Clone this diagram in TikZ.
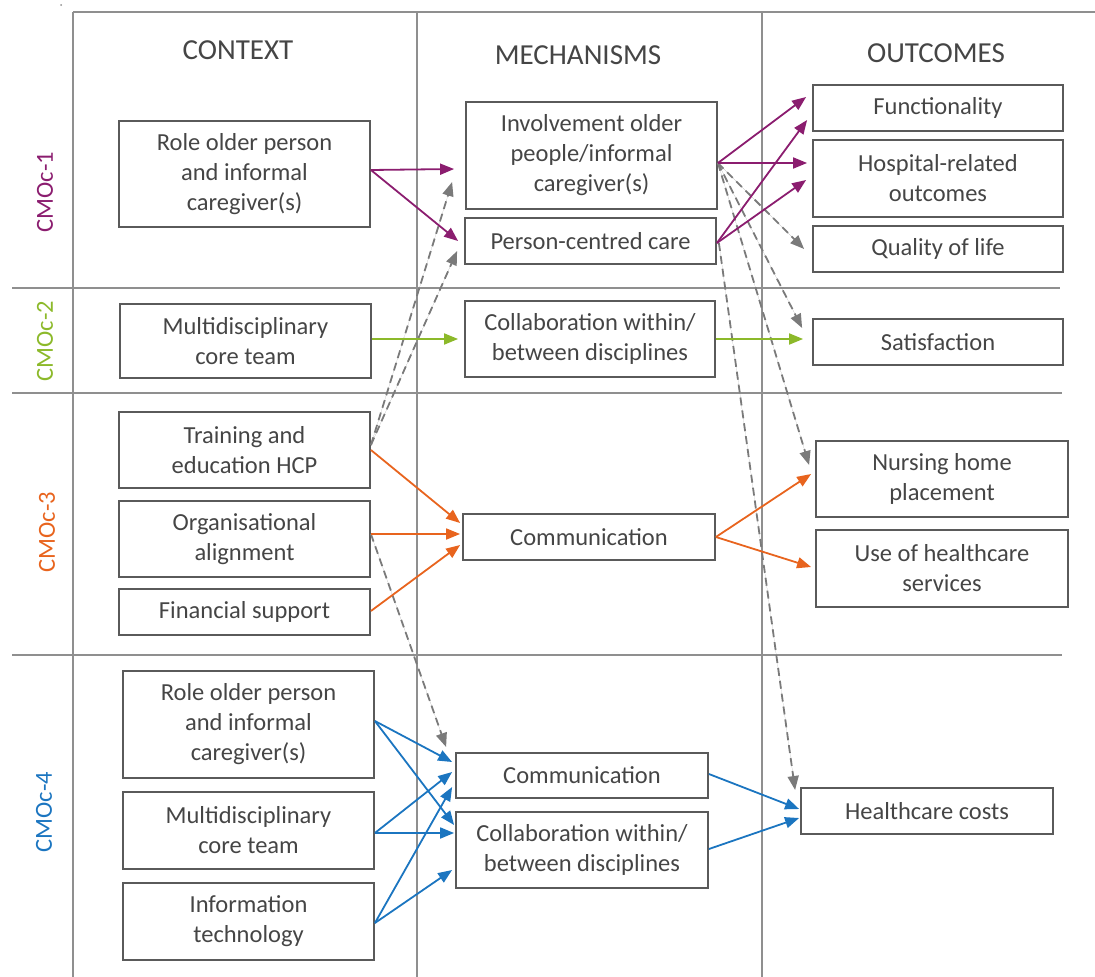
\documentclass[tikz,border=0pt]{standalone}
\usepackage{fontspec}
\setmainfont{Carlito}
\usetikzlibrary{arrows.meta,calc}
\definecolor{cpur}{HTML}{8B1D6F}
\definecolor{cgrn}{HTML}{8CB92A}
\definecolor{corg}{HTML}{E8641E}
\definecolor{cblu}{HTML}{1B75C0}
\definecolor{dgray}{HTML}{7A7A7A}
\definecolor{boxgray}{HTML}{5A5A5A}
\definecolor{txtgray}{HTML}{454545}
\definecolor{framegray}{HTML}{8F8F8F}
\begin{document}
\begin{tikzpicture}[x=1pt,y=-1pt,
  box/.style={draw=boxgray, line width=1.8pt, inner sep=0pt, align=center,
    font=\fontsize{24.5}{30}\selectfont, text=txtgray},
  frame/.style={draw=framegray, line width=1.3pt},
  arr/.style={line width=1.8pt, -{Triangle[length=14pt,width=11pt]}},
  dsh/.style={arr, draw=dgray, fill=dgray, dash pattern=on 8pt off 5pt},
  hdr/.style={font=\fontsize{29}{34}\selectfont, text=txtgray},
  lab/.style={rotate=90, font=\fontsize{24.5}{28}\selectfont}]
\useasboundingbox (0,0) rectangle (1095,977);
% frame
\fill[framegray] (61,5) circle (1pt);
\draw[frame] (73,12) -- (1095,12);
\draw[frame] (73,12) -- (73,977);
\draw[frame] (417,12) -- (417,977);
\draw[frame] (762,12) -- (762,977);
\draw[frame] (12,288) -- (1060,288);
\draw[frame] (12,393) -- (1062,393);
\draw[frame] (12,655) -- (1062,655);
% headers
\node[hdr] (hc) at (238,50) {CONTEXT};
\node[hdr] (hm) at (578,55) {MECHANISMS};
\node[hdr] (ho) at (936,53) {OUTCOMES};
% row labels
\node[lab, text=cpur] (l1) at (45,192) {CMOc-1};
\node[lab, text=cgrn] (l2) at (45,341) {CMOc-2};
\node[lab, text=corg] (l3) at (47,532) {CMOc-3};
\node[lab, text=cblu] (l4) at (44,812) {CMOc-4};
% context
\node[box, minimum width=251pt, minimum height=106pt] (c1) at (244.5,174) {Role older person\\and informal\\caregiver(s)};
\node[box, minimum width=251pt, minimum height=74pt] (c2) at (245.5,341) {Multidisciplinary\\core team};
\node[box, minimum width=251pt, minimum height=76pt] (c3a) at (244.5,450) {Training and\\education HCP};
\node[box, minimum width=251pt, minimum height=76pt] (c3b) at (244.5,539) {Organisational\\alignment};
\node[box, minimum width=251pt, minimum height=46pt] (c3c) at (244.5,612) {Financial support};
\node[box, minimum width=251pt, minimum height=107pt] (c4a) at (248.5,724.5) {Role older person\\and informal\\caregiver(s)};
\node[box, minimum width=251pt, minimum height=77pt] (c4b) at (248.5,830.5) {Multidisciplinary\\core team};
\node[box, minimum width=251pt, minimum height=77pt] (c4c) at (248.5,921.5) {Information\\technology};
% mechanisms
\node[box, minimum width=251pt, minimum height=107pt] (m1) at (591.5,155.5) {Involvement older\\people/informal\\caregiver(s)};
\node[box, minimum width=251pt, minimum height=46pt] (m2) at (590.5,241) {Person-centred care};
\node[box, minimum width=250pt, minimum height=76pt] (m3) at (590,339) {Collaboration within/\\between disciplines};
\node[box, minimum width=252pt, minimum height=46pt] (m4) at (589,537) {Communication};
\node[box, minimum width=252pt, minimum height=45pt] (m5) at (582,775.5) {Communication};
\node[box, minimum width=252pt, minimum height=76pt] (m6) at (582,850) {Collaboration within/\\between disciplines};
% outcomes
\node[box, minimum width=250pt, minimum height=46pt] (o1) at (938,108) {Functionality};
\node[box, minimum width=250pt, minimum height=77pt] (o2) at (938,178.5) {Hospital-related\\outcomes};
\node[box, minimum width=250pt, minimum height=46pt] (o3) at (938,249) {Quality of life};
\node[box, minimum width=250pt, minimum height=46pt] (o4) at (938,342) {Satisfaction};
\node[box, minimum width=252pt, minimum height=76pt] (o5) at (942,479) {Nursing home\\placement};
\node[box, minimum width=252pt, minimum height=77pt] (o6) at (942,568.5) {Use of healthcare\\services};
\node[box, minimum width=252pt, minimum height=46pt] (o7) at (927,811) {Healthcare costs};
% dashed grey
\draw[dsh] ($(m1.east)+(0,7.5)$) -- ($(o3.west)+(-8,0)$);
\draw[dsh] ($(m1.east)+(0,7.5)$) -- ($(o4.west)+(-10,-14)$);
\draw[dsh] ($(m1.east)+(0,7.5)$) -- ($(o5.west)+(-6,-14)$);
\draw[dsh] ($(m2.east)+(2,2)$) -- ($(o7.west)+(-5,-21)$);
\draw[dsh] ($(c3a.east)+(0,-5)$) -- ($(m1.west)+(-13,26.5)$);
\draw[dsh] ($(c3a.east)+(0,-5)$) -- ($(m2.west)+(-7,10)$);
\draw[dsh] ($(c3b.east)+(0,-5)$) -- ($(m5.west)+(-9,-28.5)$);
% purple
\draw[arr, cpur] ($(c1.east)+(0,-4)$) -- ($(m1.west)+(-11,13.5)$);
\draw[arr, cpur] ($(c1.east)+(0,-4)$) -- ($(m2.west)+(-6,0)$);
\draw[arr, cpur] ($(m1.east)+(0,7.5)$) -- ($(o1.west)+(-6,-11)$);
\draw[arr, cpur] ($(m1.east)+(0,7.5)$) -- ($(o2.west)+(-5,-15.5)$);
\draw[arr, cpur] ($(m2.east)+(0,2)$) -- ($(o1.west)+(-5,12)$);
\draw[arr, cpur] ($(m2.east)+(0,2)$) -- ($(o2.west)+(-6,1.5)$);
% green
\draw[arr, cgrn] ($(c2.east)+(0,-2)$) -- ($(m3.west)+(-6,0)$);
\draw[arr, cgrn] ($(m3.east)+(0,0)$) -- ($(o4.west)+(-9,-3)$);
% orange
\draw[arr, corg] (c3a.east) -- ($(m4.west)+(-2,-14)$);
\draw[arr, corg] ($(c3b.east)+(0,-5)$) -- ($(m4.west)+(-2,-3)$);
\draw[arr, corg] ($(c3c.east)+(0,-1)$) -- ($(m4.west)+(-2,8)$);
\draw[arr, corg] (m4.east) -- ($(o5.west)+(-4,-5)$);
\draw[arr, corg] (m4.east) -- ($(o6.west)+(-4,-1.5)$);
% blue
\draw[arr, cblu] ($(c4a.east)+(0,-3.5)$) -- ($(m5.west)+(-3,-13.5)$);
\draw[arr, cblu] ($(c4a.east)+(0,-3.5)$) -- ($(m6.west)+(-1,-25)$);
\draw[arr, cblu] ($(c4b.east)+(0,2.5)$) -- ($(m5.west)+(-3,-3.5)$);
\draw[arr, cblu] ($(c4b.east)+(0,2.5)$) -- ($(m6.west)+(-1,-17)$);
\draw[arr, cblu] ($(c4c.east)+(0,1.5)$) -- ($(m5.west)+(-3,11.5)$);
\draw[arr, cblu] ($(c4c.east)+(0,1.5)$) -- ($(m6.west)+(-3,20)$);
\draw[arr, cblu] ($(m5.east)+(0,-1.5)$) -- ($(o7.west)+(-1,-2)$);
\draw[arr, cblu] ($(m6.east)+(0,-1)$) -- ($(o7.west)+(-1,7)$);
\end{tikzpicture}
\end{document}
